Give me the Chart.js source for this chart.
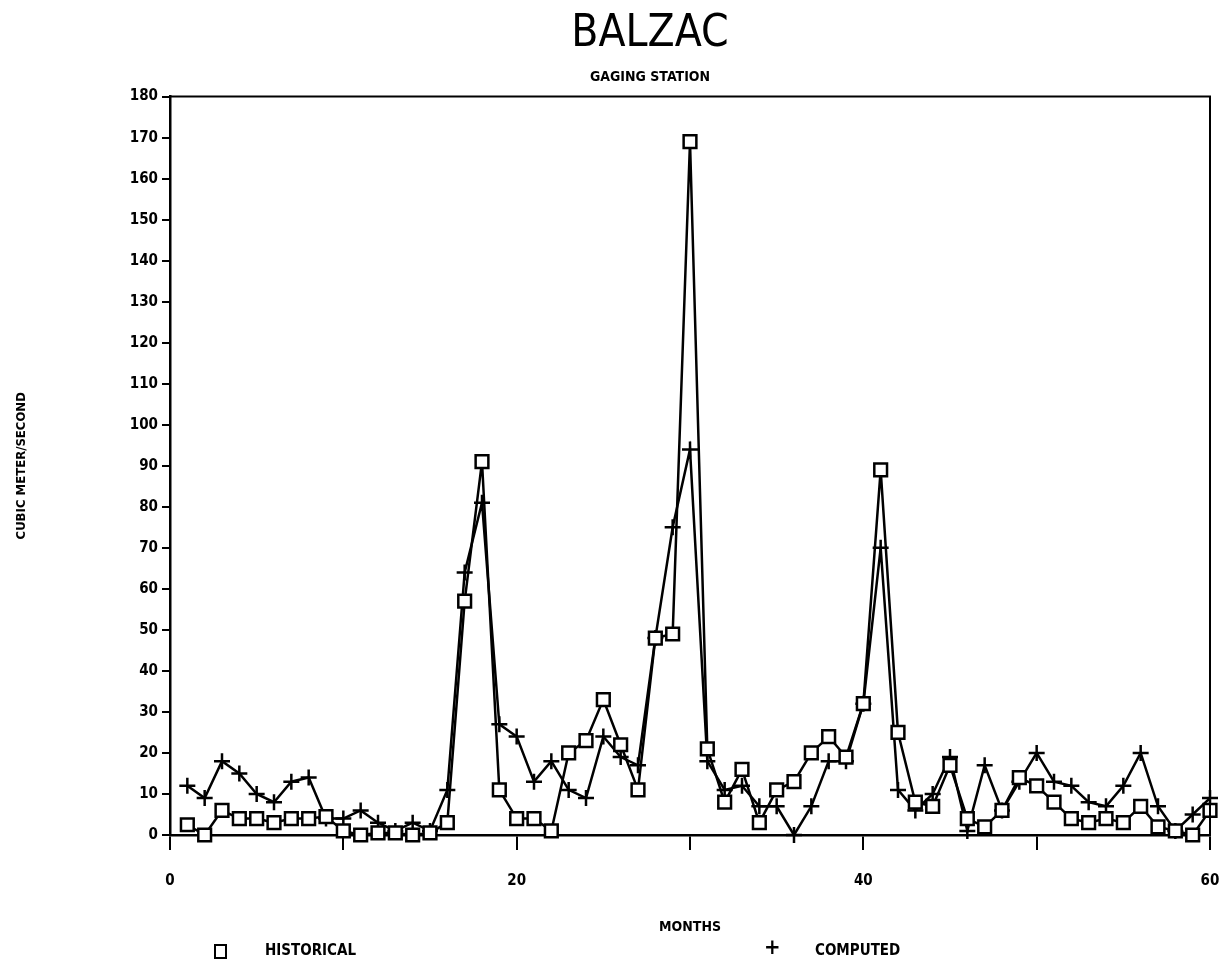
<!DOCTYPE html>
<html>
<head>
<meta charset="utf-8">
<script src="https://cdn.jsdelivr.net/npm/chart.js@4/dist/chart.umd.min.js"></script>
<style>
  body { margin: 0; background: #fff; overflow: hidden; }
  #wrap { position: relative; width: 1231px; height: 968px; }
  .lg { position: absolute; top: 940px; font: bold 15px 'Liberation Sans Narrow', 'DejaVu Sans Condensed', sans-serif; color: #000; line-height: 20px; }
  .sq { position: absolute; top: 944px; width: 9px; height: 11px; border: 2px solid #000; }
</style>
</head>
<body>
<div id="wrap">
  <canvas id="c"></canvas>
  <div class="sq" style="left:214px;"></div>
  <div class="lg" style="left:265px;">HISTORICAL</div>
  <div class="lg" style="left:764px; font-size:22px; top:937px;">+</div>
  <div class="lg" style="left:815px;">COMPUTED</div>
</div>
<script>
'use strict';

// ── data ──
const months = [];
for (let m = 1; m <= 60; m++) months.push(m);

const historical = [
  2.5, 0, 6, 4, 4, 3, 4, 4, 4.5, 1,
  0, 0.5, 0.5, 0, 0.5, 3, 57, 91, 11, 4,
  4, 1, 20, 23, 33, 22, 11, 48, 49, 169,
  21, 8, 16, 3, 11, 13, 20, 24, 19, 32,
  89, 25, 8, 7, 17, 4, 2, 6, 14, 12,
  8, 4, 3, 4, 3, 7, 2, 1, 0, 6
];

const computed = [
  12, 9, 18, 15, 10, 8, 13, 14, 4, 4,
  6, 3, 1, 3, 1, 11, 64, 81, 27, 24,
  13, 18, 11, 9, 24, 19, 17, 48, 75, 94,
  18, 11, 12, 7, 7, 0, 7, 18, 18, 32,
  70, 11, 6, 10, 19, 1, 17, 6, 13, 20,
  13, 12, 8, 7, 12, 20, 7, 1, 5, 9
];

const xTickLabels = [0, 20, 40, 60];

const FONT = "'Liberation Sans Narrow', 'DejaVu Sans Condensed', sans-serif";
const PAD_LEFT = 90; // shifts the centred title right, like the original

// top/right frame lines
const frame = {
  id: 'frame',
  afterDraw(chart) {
    const { ctx, chartArea: a } = chart;
    ctx.save();
    ctx.strokeStyle = '#000';
    ctx.lineWidth = 2;
    ctx.beginPath();
    ctx.moveTo(a.left, a.top);
    ctx.lineTo(a.right, a.top);
    ctx.lineTo(a.right, a.bottom);
    ctx.stroke();
    ctx.restore();
  }
};

const toXY = arr => arr.map((v, i) => ({ x: months[i], y: v }));

new Chart(document.getElementById('c'), {
  type: 'line',
  data: {
    datasets: [{
      label: 'HISTORICAL',
      data: toXY(historical),
      borderColor: '#000',
      borderWidth: 2.5,
      pointStyle: 'rect',
      pointRadius: 9,
      pointBorderWidth: 2.5,
      pointBackgroundColor: '#fff',
      pointBorderColor: '#000',
      tension: 0,
      clip: false
    }, {
      label: 'COMPUTED',
      data: toXY(computed),
      borderColor: '#000',
      borderWidth: 2.5,
      pointStyle: 'cross',
      pointRadius: 8,
      pointBorderWidth: 2.5,
      pointBorderColor: '#000',
      tension: 0,
      clip: false
    }]
  },
  options: {
    responsive: true,
    maintainAspectRatio: false,
    animation: false,
    layout: { autoPadding: false, padding: { left: PAD_LEFT, right: 21, top: 0, bottom: 0 } },
    plugins: {
      legend: { display: false },
      tooltip: { enabled: false },
      title: {
        display: true,
        text: 'BALZAC',
        color: '#000',
        font: { family: FONT, size: 44, weight: 'normal' },
        padding: { top: 8, bottom: 4 }
      },
      subtitle: {
        display: true,
        text: 'GAGING STATION',
        color: '#000',
        font: { family: FONT, size: 14, weight: 'bold' },
        padding: { top: 4, bottom: 11 }
      }
    },
    scales: {
      x: {
        type: 'linear',
        min: 0, max: 60,
        afterFit: s => { s.height = 133; s.paddingRight = 0; s.paddingLeft = 0; },
        border: { display: true, color: '#000', width: 2.5 },
        grid: { drawOnChartArea: false, drawTicks: true, tickLength: 15, color: '#000', lineWidth: 2 },
        ticks: {
          stepSize: 10,
          color: '#000',
          padding: 22,
          maxRotation: 0,
          font: { family: FONT, size: 15, weight: 'bold' },
          callback: v => xTickLabels.includes(v) ? String(v) : ''
        },
        title: {
          display: true,
          text: 'MONTHS',
          color: '#000',
          font: { family: FONT, size: 14, weight: 'bold' },
          padding: { top: 0, bottom: 32 }
        }
      },
      y: {
        min: 0, max: 180,
        afterFit: s => { s.width = 170 - PAD_LEFT; },
        border: { display: true, color: '#000', width: 2.5 },
        grid: { drawOnChartArea: false, drawTicks: true, tickLength: 8, color: '#000', lineWidth: 2 },
        ticks: {
          stepSize: 10,
          color: '#000',
          padding: 4,
          font: { family: FONT, size: 15, weight: 'bold' }
        },
        title: {
          display: true,
          text: 'CUBIC METER/SECOND',
          color: '#000',
          font: { family: FONT, size: 13, weight: 'bold' },
          padding: { top: 14 - PAD_LEFT, bottom: 0 }
        }
      }
    }
  },
  plugins: [frame]
});
</script>
</body>
</html>
